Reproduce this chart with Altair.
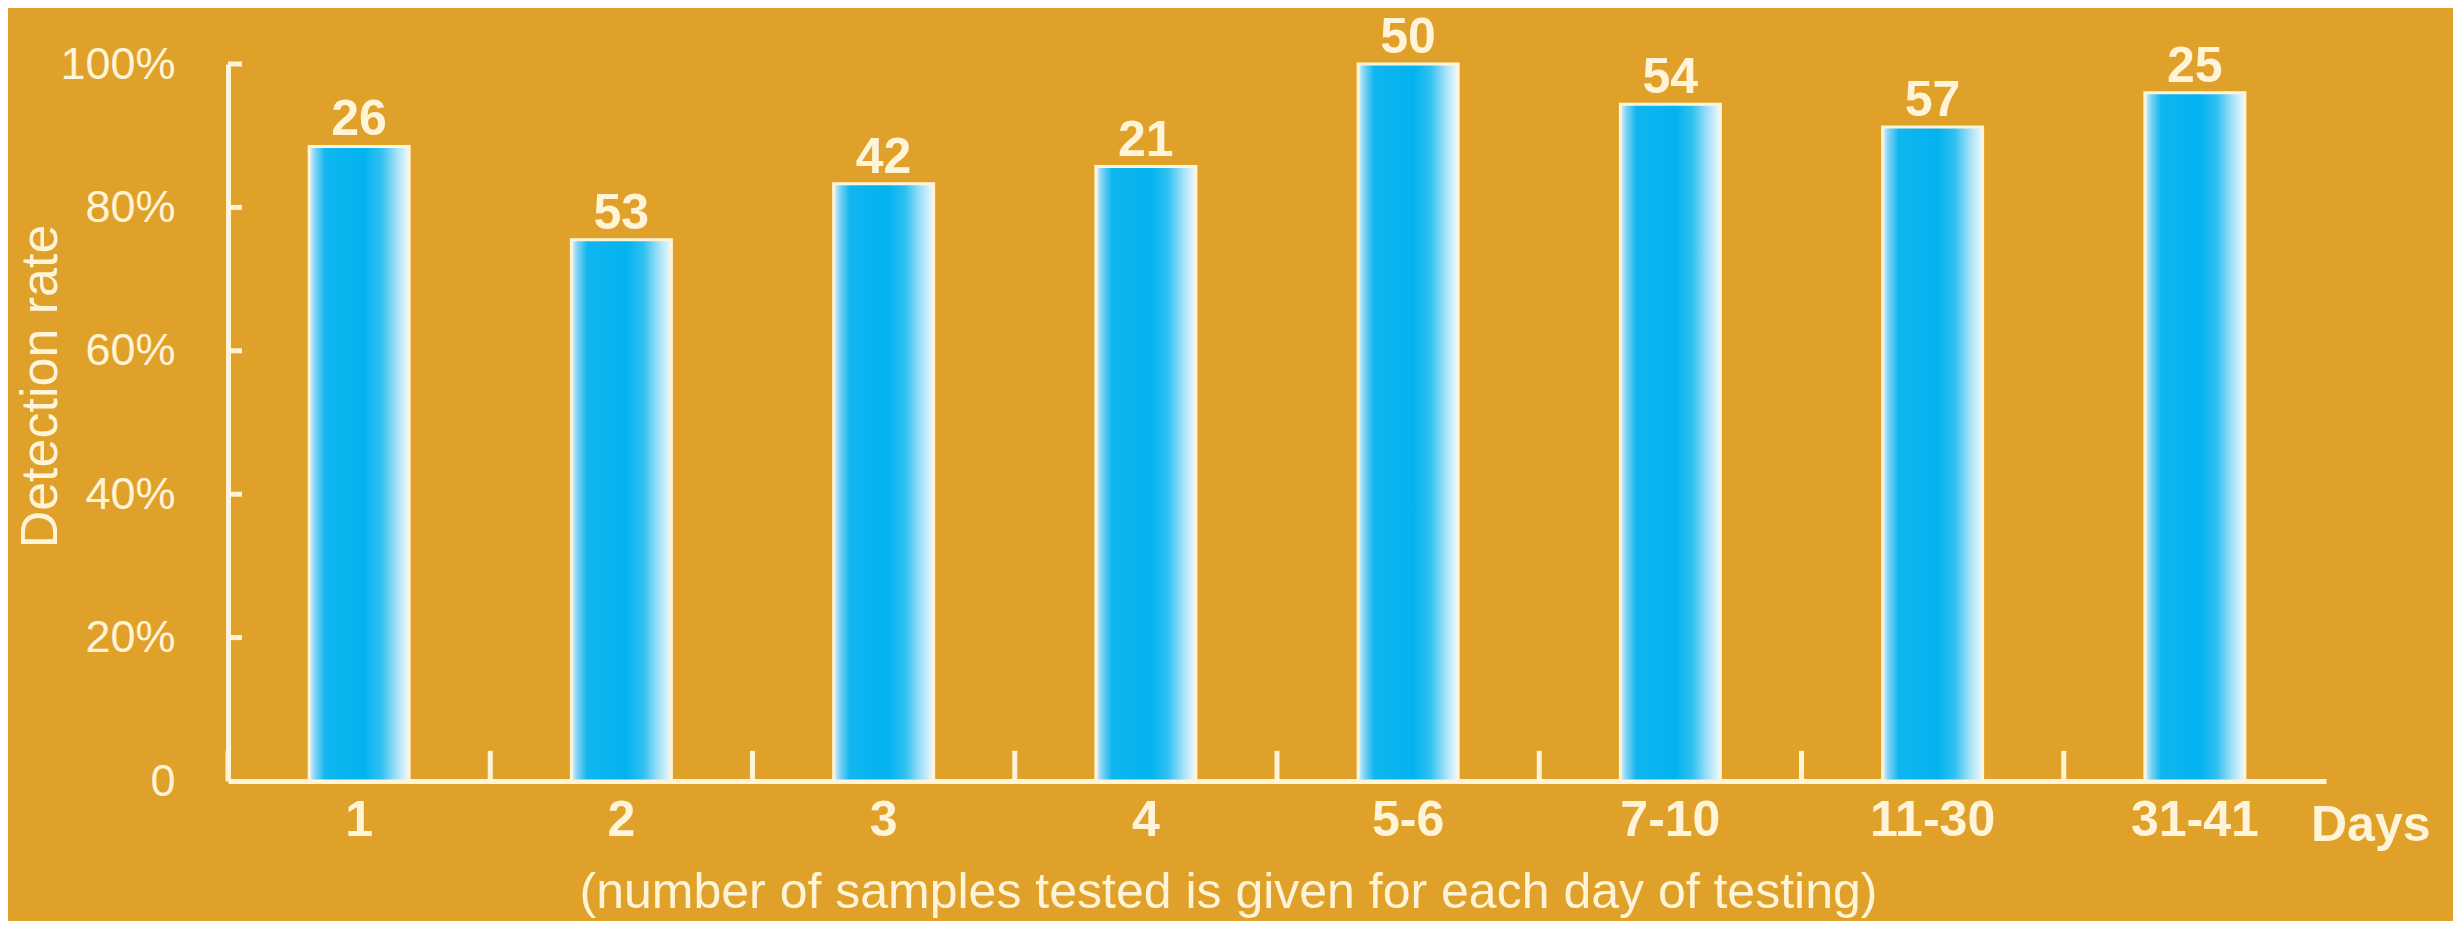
import altair as alt
import pandas as pd

days = ["1", "2", "3", "4", "5-6", "7-10", "11-30", "31-41"]
rates = [0.885, 0.755, 0.833, 0.857, 1.0, 0.944, 0.912, 0.96]
samples = [26, 53, 42, 21, 50, 54, 57, 25]
y_tick_values = [0.2, 0.4, 0.6, 0.8, 1.0]
y_axis_values = [0, 0.2, 0.4, 0.6, 0.8, 1.0]

df = pd.DataFrame({"day": days, "rate": rates, "n": samples})
tick_df = pd.DataFrame({"t": y_tick_values})
days_df = pd.DataFrame({"label": ["Days"]})

CREAM = "#FFF4D8"
BG = "#E0A12A"
FONT = "Liberation Sans"

x_axis = alt.Axis(
    title="(number of samples tested is given for each day of testing)",
    labelAngle=0, labelFontSize=50, labelFontWeight="bold", labelColor=CREAM,
    labelFont=FONT, labelPadding=14, ticks=False, domainColor=CREAM,
    domainWidth=5, grid=False, titleFontSize=50, titleFontWeight="normal",
    titleColor=CREAM, titleFont=FONT, titleX=1000, titleY=126,
    titleBaseline="alphabetic", titleAlign="center",
)
x_scale = alt.Scale(paddingInner=0, paddingOuter=0)


def xenc(**kw):
    return alt.X("day:N", sort=days, scale=x_scale, axis=x_axis, **kw)


y_axis = alt.Axis(
    values=y_axis_values,
    labelExpr="datum.value == 0 ? '0' : format(datum.value, '.0%')",
    labelFontSize=45, labelColor=CREAM, labelFont=FONT, labelPadding=53,
    ticks=False, domainColor=CREAM, domainWidth=5, grid=False,
    title="Detection rate", titleFontSize=52, titleFontWeight="normal",
    titleColor=CREAM, titleFont=FONT, titleAngle=270, titleX=-188,
    titleY=322, titleAlign="center", titleBaseline="middle",
)
y_scale = alt.Scale(domain=[0, 1], nice=False, zero=True)

grad = alt.Gradient(
    gradient="linear", x1=0, x2=1, y1=0, y2=0,
    stops=[
        alt.GradientStop(offset=0.0, color="#DDF3FC"),
        alt.GradientStop(offset=0.06, color="#7FD3F5"),
        alt.GradientStop(offset=0.16, color="#10B6EF"),
        alt.GradientStop(offset=0.55, color="#02B3EF"),
        alt.GradientStop(offset=0.72, color="#30C0F1"),
        alt.GradientStop(offset=0.88, color="#A8E2F8"),
        alt.GradientStop(offset=1.0, color="#F0FAFE"),
    ],
)

bars = alt.Chart(df).mark_bar(width=100, fill=grad, stroke=CREAM, strokeWidth=3).encode(
    x=xenc(), y=alt.Y("rate:Q", scale=y_scale, axis=y_axis)
)

labels = alt.Chart(df).mark_text(
    dy=-11, baseline="alphabetic", fontSize=50, fontWeight="bold", color=CREAM, font=FONT
).encode(x=xenc(), y=alt.Y("rate:Q", scale=y_scale, axis=y_axis), text="n:Q")

xticks = alt.Chart(df).mark_rule(color=CREAM, strokeWidth=5).encode(
    x=xenc(bandPosition=0), y=alt.datum(0), y2=alt.datum(0.042)
)

yticks = alt.Chart(tick_df).mark_rule(color=CREAM, strokeWidth=5).encode(
    y=alt.Y("t:Q", scale=y_scale, axis=y_axis), x=alt.value(0), x2=alt.value(14)
)

days_label = alt.Chart(days_df).mark_text(
    align="left", baseline="alphabetic", fontSize=50, fontWeight="bold", color=CREAM, font=FONT
).encode(x=alt.value(2083), y=alt.value(777), text="label:N")

chart = alt.layer(bars, xticks, yticks, labels, days_label).properties(
    width=2098, height=717,
    padding={"left": 220, "top": 56, "right": 127, "bottom": 140},
    autosize=alt.AutoSizeParams(type="none"),
    background=BG,
).configure_view(stroke=None)

chart.save("out.html", embed_options={"renderer": "svg", "actions": False})
